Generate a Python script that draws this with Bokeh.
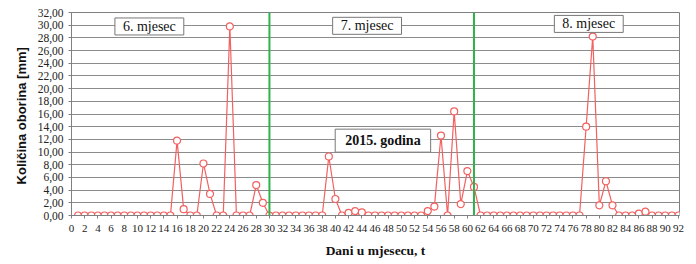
from bokeh.plotting import figure
from bokeh.models import Range1d, FixedTicker, Span, Label
from bokeh.embed import file_html
from bokeh.resources import INLINE

# ---- data ----
days = list(range(1, 93))
june = [0, 0, 0, 0, 0, 0, 0, 0, 0, 0, 0, 0, 0, 0, 0,
        11.8, 1.0, 0, 0, 8.2, 3.4, 0, 0, 29.8, 0, 0, 0, 4.8, 2.0, 0]
july = [0, 0, 0, 0, 0, 0, 0, 0,
        9.3, 2.6, 0, 0.4, 0.7, 0.5,
        0, 0, 0, 0, 0, 0, 0, 0, 0,
        0.7, 1.4, 12.6, 0, 16.4, 1.8, 7.0, 4.5]
august = [0, 0, 0, 0, 0, 0, 0, 0, 0, 0, 0, 0, 0, 0, 0, 0,
          14.0, 28.2, 1.6, 5.4, 1.6, 0, 0, 0, 0.3, 0.6, 0, 0, 0, 0, 0]
rain = june + july + august
month_ends = [30, 61]
month_names = ["6. mjesec", "7. mjesec", "8. mjesec"]
year_label = "2015. godina"
x_ticks = list(range(0, 93, 2))
y_ticks = list(range(0, 33, 2))
y_tick_labels = {t: f"{t},00" for t in y_ticks}

p = figure(width=696, height=262, output_backend="svg", toolbar_location=None,
           x_range=Range1d(0, 92.15), y_range=Range1d(0, 32),
           min_border_left=71, min_border_right=17, min_border_top=12,
           min_border_bottom=47)
p.outline_line_color = "#808080"
p.outline_line_width = 1
p.background_fill_color = "white"

p.xgrid.grid_line_color = None
p.ygrid.grid_line_color = "#8c8c8c"
p.ygrid.grid_line_width = 1
p.ygrid.ticker = FixedTicker(ticks=y_ticks)

p.xaxis.ticker = FixedTicker(ticks=x_ticks)
p.yaxis.ticker = FixedTicker(ticks=y_ticks)
p.yaxis.major_label_overrides = y_tick_labels
for ax in (p.xaxis, p.yaxis):
    ax.axis_line_color = "#808080"
    ax.major_tick_line_color = "#808080"
    ax.minor_tick_line_color = None
    ax.major_tick_in = 0
    ax.major_tick_out = 3
    ax.major_label_text_font = "Liberation Serif"
    ax.major_label_text_color = "#222222"
p.xaxis.major_label_text_font_size = "11px"
p.yaxis.major_label_text_font_size = "11.5px"
p.xaxis.major_label_standoff = 6
p.yaxis.major_label_standoff = 5

p.xaxis.axis_label = "Dani u mjesecu, t"
p.xaxis.axis_label_text_font = "Liberation Serif"
p.xaxis.axis_label_text_font_style = "bold"
p.xaxis.axis_label_text_font_size = "13.5px"
p.xaxis.axis_label_text_color = "#111111"
p.xaxis.axis_label_standoff = 8

p.yaxis.axis_label = "Količina oborina  [mm]"
p.yaxis.axis_label_text_font = "Liberation Sans"
p.yaxis.axis_label_text_font_style = "bold"
p.yaxis.axis_label_text_font_size = "13px"
p.yaxis.axis_label_text_color = "#111111"
p.yaxis.axis_label_standoff = 6

for xe in month_ends:
    p.add_layout(Span(location=xe, dimension="height", line_color="#2db34a",
                      line_width=2))

p.line(days, rain, line_color="#f26060", line_width=1.2)
p.scatter(days, rain, marker="circle", size=7, fill_color="white",
          line_color="#f26060", line_width=1.2)

label_pos = [(11.8, 29.8), (44.8, 29.9), (78.4, 30.2)]
for name, (lx, ly) in zip(month_names, label_pos):
    p.add_layout(Label(x=lx, y=ly, text=name, text_align="center",
                       text_baseline="middle", text_font="Liberation Serif",
                       text_font_size="14px", text_color="#111111",
                       background_fill_color="white",
                       border_line_color="#777777", border_line_width=1,
                       padding=(8, 1)))
p.add_layout(Label(x=47.2, y=11.8, text=year_label, text_align="center",
                   text_baseline="middle", text_font="Liberation Serif",
                   text_font_size="14px", text_font_style="bold",
                   text_color="#111111", background_fill_color="white",
                   border_line_color="#777777", border_line_width=1,
                   padding=(10, 4)))

open("out.html", "w").write(file_html(p, INLINE))
